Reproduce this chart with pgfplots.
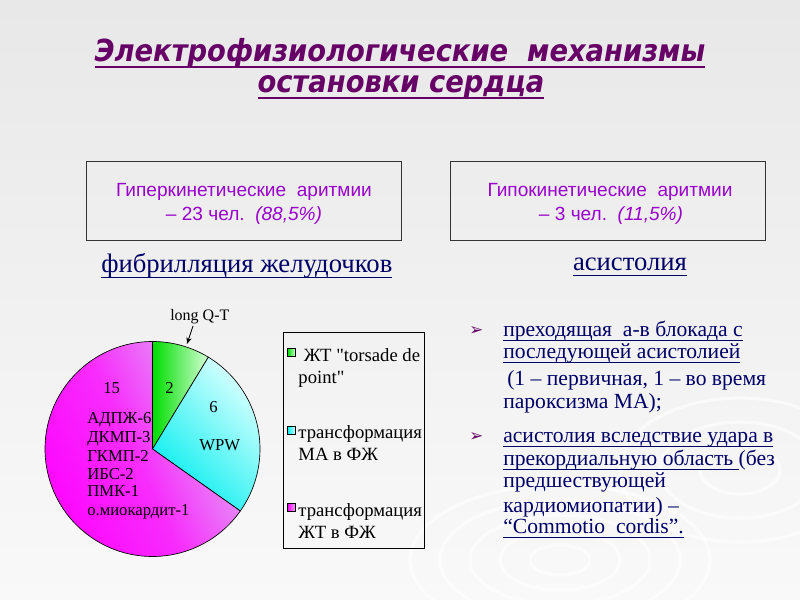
\documentclass[border=0pt]{standalone}
\usepackage{pgfplots}
\pgfplotsset{compat=1.18}
\usepackage{pgfplotstable}
\usetikzlibrary{arrows.meta}
\usepackage{fontspec}
\setmainfont{Liberation Serif}
\newfontfamily\rawserif{Liberation Serif}[Ligatures=TeXOff]
\newfontfamily\arialf{Liberation Sans}
\newfontfamily\titlef{DejaVu Sans Condensed}
\newfontfamily\symf{DejaVu Sans}
\newcommand\ul[3][-3.5pt]{\setbox0\hbox{#3}\rlap{\rule[#1]{\wd0}{#2}}\box0}
\definecolor{titlecol}{HTML}{660066}
\definecolor{boxcol}{HTML}{9900CC}
\definecolor{navy}{HTML}{000066}
\definecolor{bgtop}{HTML}{E8E8E8}
\definecolor{bgbot}{HTML}{F9F9F9}
\definecolor{gdark}{HTML}{00DD00}
\definecolor{glight}{HTML}{D4FFD4}
\definecolor{cdark}{HTML}{00EEEE}
\definecolor{clight}{HTML}{DAFFFF}
\definecolor{mdark}{HTML}{FF00FF}
\definecolor{mlight}{HTML}{E0B0F4}

\pgfplotstableread{
part value
torsade 2
MAtoVF 6
VTtoVF 15
}\piedata

\begin{document}
\begin{tikzpicture}
\pgfplotstablegetelem{0}{value}\of\piedata \edef\va{\pgfplotsretval}
\pgfplotstablegetelem{1}{value}\of\piedata \edef\vb{\pgfplotsretval}
\pgfplotstablegetelem{2}{value}\of\piedata \edef\vc{\pgfplotsretval}
\pgfmathsetmacro\tot{\va+\vb+\vc}
\pgfmathsetmacro\angA{90-360*\va/\tot}
\pgfmathsetmacro\angB{\angA-360*\vb/\tot}
\pgfmathsetmacro\angC{\angB-360*\vc/\tot}

\begin{scope}[x=0.75pt,y=-0.75pt]
\path[use as bounding box] (0,0) rectangle (800,600);
\shade[top color=bgtop, bottom color=bgbot] (0,0) rectangle (800,600);
\begin{scope}
\clip (0,0) rectangle (800,600);
\begin{scope}[white, line width=2.5pt, opacity=0.6]
\foreach \r in {30,60,90,120,150} \draw (560,560) ellipse ({\r} and {\r*0.5});
\foreach \r in {40,80,120} \draw (740,470) ellipse ({\r} and {\r*0.6});
\end{scope}
\end{scope}
% title
\node[anchor=base, text=titlecol, font=\titlef\bfseries\itshape\fontsize{22.8}{26}\selectfont] at (400,61)
  {\ul[-5pt]{1.6pt}{Электрофизиологические\ \ механизмы}};
\node[anchor=base, text=titlecol, font=\titlef\bfseries\itshape\fontsize{22.8}{26}\selectfont] at (401,92)
  {\ul[-5pt]{1.6pt}{остановки сердца}};
% boxes
\draw[line width=0.75pt, draw=black!80] (86,161) rectangle (401,240);
\draw[line width=0.75pt, draw=black!80] (450,161) rectangle (765,240);
\begin{scope}[every node/.style={anchor=base, text=boxcol, font=\arialf\fontsize{14.3}{16}\selectfont}]
\node at (244,196) {Гиперкинетические\ \ аритмии};
\node at (244,220) {– 23 чел.\ \ \textit{(88,5\%)}};
\node at (610,196) {Гипокинетические\ \ аритмии};
\node at (611,220) {– 3 чел.\ \ \textit{(11,5\%)}};
\end{scope}
% subtitles
\node[anchor=base west, text=navy, font=\fontsize{20}{22}\selectfont, inner sep=0pt] at (101,272) {\ul[-4.5pt]{0.8pt}{фибрилляция желудочков}};
\node[anchor=base, text=navy, font=\fontsize{20}{22}\selectfont, inner sep=0pt] at (630,270) {\ul[-4.5pt]{0.8pt}{асистолия}};
% bullets
\foreach \y in {335,441}
  \node[anchor=base west, text=titlecol, font=\symf\fontsize{12.5}{13}\selectfont, inner sep=0pt] at (469,\y) {➢};
\begin{scope}[every node/.style={anchor=base west, text=navy, font=\fontsize{16.2}{18}\selectfont, inner sep=0pt}]
\node at (503,336) {\ul{0.75pt}{преходящая\ \ а-в блокада с}};
\node at (503,358) {\ul{0.75pt}{последующей асистолией}};
\node at (507,385) {(1 – первичная, 1 – во время};
\node at (503,408) {пароксизма МА);};
\node at (503,442) {\ul{0.75pt}{асистолия вследствие удара в}};
\node at (503,465) {\ul{0.75pt}{прекордиальную область\ }(без};
\node at (503,487) {предшествующей};
\node at (503,512) {кардиомиопатии) –};
\node at (503,533) {\ul{0.75pt}{“Commotio\ \ cordis”.}};
\end{scope}
% legend frame
\draw[line width=0.6pt, black] (283,332) rectangle (424,548);
\end{scope}

\begin{axis}[at={(114.375pt,-336.75pt)}, anchor=origin,
  x=80.625pt, y=80.625pt, xmin=-1, xmax=1, ymin=-1, ymax=1,
  hide axis, clip=false,
  legend cell align=left,
  legend style={at={(1.107,1.044)}, anchor=north west, draw=none, fill=none,
    font=\fontsize{14}{16.5}\selectfont,
    row sep=43pt, inner xsep=3pt, inner ysep=10pt}]
\draw[line width=0.5pt, left color=gdark, right color=glight]
  (axis cs:0,0) -- (axis cs:0,1) arc[start angle=90, end angle=\angA, radius=80.625pt] -- cycle;
\draw[line width=0.5pt, bottom color=cdark, top color=clight, shading angle=-45]
  (axis cs:0,0) -- (axis cs:{cos(\angA)},{sin(\angA)}) arc[start angle=\angA, end angle=\angB, radius=80.625pt] -- cycle;
\draw[line width=0.5pt, bottom color=mdark, top color=mlight, middle color=mdark!75!mlight, shading angle=-65]
  (axis cs:0,0) -- (axis cs:{cos(\angB)},{sin(\angB)}) arc[start angle=\angB, end angle=\angC, radius=80.625pt] -- cycle;
\addlegendimage{legend image code/.code={\draw[line width=0.4pt, left color=gdark, right color=glight] (0pt,-0.5pt) rectangle (6pt,5.5pt);}}
\addlegendentry{\parbox[t]{100pt}{\raggedright\hspace{4pt}ЖТ {\rawserif"}torsade de\\point{\rawserif"}}}
\addlegendimage{legend image code/.code={\draw[line width=0.4pt, left color=cdark, right color=clight] (0pt,-0.5pt) rectangle (6pt,5.5pt);}}
\addlegendentry{\parbox[t]{100pt}{\raggedright трансформация\\МА в ФЖ}}
\addlegendimage{legend image code/.code={\draw[line width=0.4pt, left color=mdark, right color=mlight] (0pt,-0.5pt) rectangle (6pt,5.5pt);}}
\addlegendentry{\parbox[t]{100pt}{\raggedright трансформация\\ЖТ в ФЖ}}
\end{axis}

\begin{scope}[x=0.75pt,y=-0.75pt, every node/.style={anchor=base west, text=black, font=\fontsize{12.5}{14}\selectfont, inner sep=0pt}]
\node[font=\fontsize{12}{14}\selectfont] at (170,320) {long Q-T};
\draw[-{Stealth[length=5pt,width=4pt]}, line width=0.6pt] (193,326) -- (187,344);
\node at (103,393) {15};
\node at (165,393) {2};
\node at (209,412) {6};
\node at (199,450.7) {WPW};
\node at (87,423) {АДПЖ-6};
\node at (87,442.7) {ДКМП-3};
\node at (87,461) {ГКМП-2};
\node at (87,479) {ИБС-2};
\node at (87,496.7) {ПМК-1};
\node at (87,515) {о.миокардит-1};
\end{scope}
\end{tikzpicture}
\end{document}
